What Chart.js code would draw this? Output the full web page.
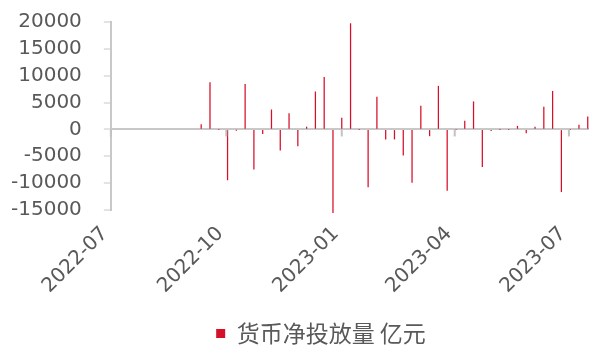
<!DOCTYPE html>
<html>
<head>
<meta charset="utf-8">
<script src="https://cdn.jsdelivr.net/npm/chart.js@4.4.0/dist/chart.umd.min.js"></script>
<style>
  html, body { margin: 0; padding: 0; background: #ffffff; }
  #wrap { width: 589px; height: 347px; }
</style>
</head>
<body>
<div id="wrap"><canvas id="c" width="589" height="347"></canvas></div>
<script>
// ---- data ----
const weekDates = [
  '2022-09-11','2022-09-18','2022-09-25','2022-10-02','2022-10-09','2022-10-16','2022-10-23','2022-10-30',
  '2022-11-06','2022-11-13','2022-11-20','2022-11-27','2022-12-04','2022-12-11','2022-12-18','2022-12-25',
  '2023-01-01','2023-01-08','2023-01-15','2023-01-22','2023-01-29','2023-02-05','2023-02-12','2023-02-19',
  '2023-02-26','2023-03-05','2023-03-12','2023-03-19','2023-03-26','2023-04-02','2023-04-09','2023-04-16',
  '2023-04-23','2023-04-30','2023-05-07','2023-05-14','2023-05-21','2023-05-28','2023-06-04','2023-06-11',
  '2023-06-18','2023-06-25','2023-07-02','2023-07-09','2023-07-16'
];
const netInjection = [
  900, 8700, 0, -9400, -100, 8400, -7400, -800,
  3650, -3850, 2950, -3050, 450, 7000, 9700, -15500,
  2100, 19700, 0, -10700, 6000, -1800, -1800, -4800,
  -9850, 4350, -1200, 8050, -11350, 0, 1550, 5150,
  -6950, -250, 0, 0, 600, -650, 450, 4150,
  7100, -11600, 0, 800, 2350
];
const tickLabels = ['2022-07', '2022-10', '2023-01', '2023-04', '2023-07'];
const axisStart = '2022-07-01';
const axisEnd = '2023-07-17';
const yMin = -15000;
const yMax = 20000;
const yStep = 5000;
const seriesName = '货币净投放量 亿元';

// ---- helpers ----
const DAY = 864e5;
function dayNum(s) {
  const p = s.split('-').map(Number);
  return Date.UTC(p[0], p[1] - 1, p[2] || 1) / DAY;
}
function fmtMonth(v) {
  const d = new Date(v * DAY);
  return d.getUTCFullYear() + '-' + String(d.getUTCMonth() + 1).padStart(2, '0');
}
const quarterTicks = (scale) => { scale.ticks = tickLabels.map(t => ({ value: dayNum(t) })); };

const points = weekDates.map((d, i) => ({ x: dayNum(d), y: netInjection[i] }));

const GRAY_TEXT = '#595959';
const AXIS_GRAY = '#c8c8c8';
const RED = '#d7102a';

Chart.defaults.font.family = '"DejaVu Sans", "Liberation Sans", Arial, sans-serif';

// shifts the legend box after layout
const legendShift = {
  id: 'legendShift',
  afterLayout(chart, args, opts) {
    const l = chart.legend;
    if (!l) return;
    l.left += opts.dx; l.right += opts.dx;
    l.top += opts.dy; l.bottom += opts.dy;
  }
};

// small tick marks hanging below the zero line at each x tick
const zeroTicks = {
  id: 'zeroTicks',
  afterDatasetsDraw(chart, args, opts) {
    const xs = chart.scales.x, ys = chart.scales.y;
    const y0 = ys.getPixelForValue(0);
    const ctx = chart.ctx;
    ctx.save();
    ctx.strokeStyle = opts.color;
    ctx.lineWidth = opts.width;
    xs.ticks.forEach(t => {
      const px = xs.getPixelForValue(t.value);
      ctx.beginPath();
      ctx.moveTo(px, y0);
      ctx.lineTo(px, y0 + opts.length);
      ctx.stroke();
    });
    ctx.restore();
  }
};

new Chart(document.getElementById('c'), {
  type: 'bar',
  data: {
    datasets: [{
      label: seriesName,
      data: points,
      backgroundColor: RED,
      borderWidth: 0,
      barThickness: 0.6,
      clip: false,
      xAxisID: 'x',
      yAxisID: 'y'
    }]
  },
  plugins: [legendShift, zeroTicks],
  options: {
    responsive: false,
    animation: false,
    devicePixelRatio: 1,
    layout: { padding: { top: 22, left: -11, right: 0, bottom: 0 } },
    scales: {
      x: {
        type: 'linear',
        min: dayNum(axisStart),
        max: dayNum(axisEnd),
        offset: false,
        grid: { display: false, drawTicks: false, offset: false },
        border: { display: false },
        afterBuildTicks: quarterTicks,
        afterFit: (s) => { s.height = 102; s.paddingRight = 0; },
        ticks: {
          autoSkip: false,
          minRotation: 45,
          maxRotation: 45,
          padding: 12,
          labelOffset: -6,
          color: GRAY_TEXT,
          font: { size: 20 },
          callback: (v) => fmtMonth(v)
        }
      },
      y: {
        min: yMin,
        max: yMax,
        afterFit: (s) => { s.paddingTop = 0; s.paddingBottom = 0; },
        grid: {
          drawOnChartArea: true,
          color: (ctx) => (ctx.tick && ctx.tick.value === 0) ? AXIS_GRAY : 'rgba(0,0,0,0)',
          lineWidth: 2,
          tickLength: 7,
          tickColor: AXIS_GRAY,
          tickWidth: 1
        },
        border: { display: true, color: AXIS_GRAY, width: 2 },
        ticks: {
          autoSkip: false,
          stepSize: yStep,
          padding: 22,
          color: GRAY_TEXT,
          font: { size: 20 },
          callback: (v) => String(v)
        }
      }
    },
    plugins: {
      legendShift: { dx: 32, dy: 8 },
      zeroTicks: { color: '#c2c2c2', width: 2, length: 7 },
      legend: {
        position: 'bottom',
        labels: {
          boxWidth: 9,
          boxHeight: 9,
          padding: 2,
          color: GRAY_TEXT,
          font: { family: '"Noto Sans CJK SC", sans-serif', size: 23 }
        }
      },
      tooltip: { enabled: false }
    }
  }
});
</script>
</body>
</html>
